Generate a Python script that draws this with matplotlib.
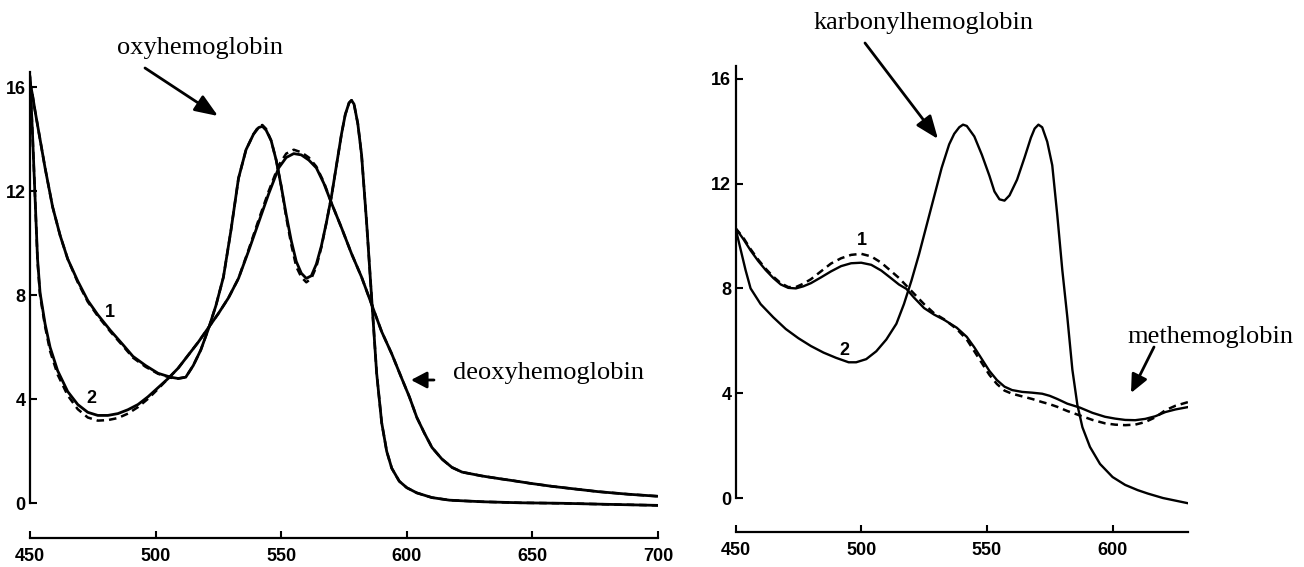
import matplotlib
matplotlib.use("Agg")
import matplotlib.pyplot as plt
from matplotlib.font_manager import FontProperties

W, H = 1304, 567

# ---------------- data ----------------
# Left panel: oxyhemoglobin (curve 1) and deoxyhemoglobin (curve 2)
oxy_x = [450, 451, 452, 454, 456, 459, 462, 465, 469, 473, 477, 482, 487, 491, 496, 501,
         506, 509, 512, 515, 518, 521, 524, 527, 530, 533, 536, 539, 541, 542.5, 544, 546, 548,
         550, 552, 554, 556, 558, 560, 562, 564, 566, 568, 570, 572, 574, 575.5, 577, 578, 579, 580.5,
         582, 584, 586, 588, 590, 592, 594, 597, 600, 604, 610, 617, 630, 645, 662, 680, 700]
oxy_y = [16.2, 15.7, 15.1, 14.0, 12.9, 11.4, 10.3, 9.4, 8.55, 7.8, 7.25, 6.65, 6.1, 5.65, 5.3, 5.0,
         4.85, 4.8, 4.85, 5.3, 5.9, 6.7, 7.6, 8.7, 10.5, 12.5, 13.6, 14.2, 14.45, 14.5, 14.35, 13.95, 13.2,
         12.2, 11.1, 10.1, 9.3, 8.85, 8.65, 8.75, 9.2, 9.9, 10.8, 11.8, 13.0, 14.2, 14.95, 15.4, 15.5, 15.35, 14.6,
         13.4, 10.8, 7.9, 5.0, 3.1, 2.0, 1.35, 0.85, 0.6, 0.4, 0.22, 0.12, 0.06, 0.02, 0.0, -0.04, -0.08]
oxy_dash_y = [16.2, 15.7, 15.1, 14.0, 12.9, 11.4, 10.3, 9.4, 8.5, 7.75, 7.2, 6.6, 6.05, 5.6, 5.25, 4.98,
              4.83, 4.8, 4.85, 5.3, 5.9, 6.7, 7.6, 8.7, 10.5, 12.5, 13.6, 14.2, 14.5, 14.55, 14.4, 13.95, 13.2,
              12.2, 11.0, 9.95, 9.1, 8.7, 8.5, 8.65, 9.1, 9.85, 10.8, 11.8, 13.0, 14.2, 14.95, 15.4, 15.5, 15.35, 14.6,
              13.4, 10.8, 7.9, 5.0, 3.1, 2.0, 1.35, 0.85, 0.6, 0.4, 0.22, 0.12, 0.06, 0.02, 0.0, -0.04, -0.08]

deoxy_x = [450, 451, 452, 453, 454, 456, 458, 461, 465, 469, 473, 477, 481, 485, 489, 493,
           497, 501, 505, 509, 513, 517, 521, 525, 529, 533, 537, 541, 545, 549, 552, 555,
           558, 561, 564, 567, 570, 574, 578, 582, 586, 590, 594, 598, 601, 604, 607, 610,
           614, 618, 622, 630, 636, 643, 649, 658, 667, 676, 688, 700]
deoxy_y = [16.4, 14.2, 11.8, 9.4, 8.1, 6.9, 6.0, 5.1, 4.3, 3.8, 3.5, 3.38, 3.38, 3.45, 3.6, 3.8,
           4.1, 4.45, 4.8, 5.2, 5.7, 6.2, 6.75, 7.3, 7.9, 8.65, 9.7, 10.8, 11.9, 12.9, 13.3, 13.45,
           13.4, 13.2, 12.9, 12.3, 11.55, 10.6, 9.6, 8.7, 7.65, 6.6, 5.75, 4.8, 4.1, 3.3, 2.7, 2.15,
           1.7, 1.38, 1.2, 1.05, 0.96, 0.86, 0.77, 0.65, 0.55, 0.45, 0.35, 0.27]
deoxy_dash_y = [16.4, 14.2, 11.8, 9.3, 8.0, 6.8, 5.85, 4.95, 4.15, 3.62, 3.3, 3.18, 3.2, 3.28, 3.45, 3.7,
                4.02, 4.4, 4.8, 5.2, 5.7, 6.2, 6.75, 7.3, 7.9, 8.65, 9.75, 10.9, 12.0, 13.0, 13.45, 13.6,
                13.5, 13.3, 12.95, 12.35, 11.55, 10.6, 9.6, 8.7, 7.65, 6.6, 5.75, 4.8, 4.1, 3.3, 2.7, 2.15,
                1.7, 1.38, 1.2, 1.05, 0.96, 0.86, 0.77, 0.65, 0.55, 0.45, 0.35, 0.27]

# Right panel: karbonylhemoglobin (curve 2) and methemoglobin (curve 1)
co_x = [450, 452, 454, 456, 460, 465, 470, 475, 480, 485, 490, 495, 498, 502, 506, 510,
        514, 517, 520, 523, 526, 529, 532, 535, 537, 539, 540.5, 542, 545, 548, 551, 553, 555,
        557, 559, 562, 565, 567.5, 569, 570.5, 572, 574, 576, 578, 580, 582, 584, 586, 588, 591,
        595, 600, 605, 610, 614, 620, 625, 630]
co_y = [10.3, 9.5, 8.7, 8.0, 7.4, 6.9, 6.45, 6.1, 5.8, 5.55, 5.35, 5.18, 5.18, 5.3, 5.6, 6.05,
        6.65, 7.4, 8.3, 9.3, 10.4, 11.5, 12.6, 13.5, 13.9, 14.15, 14.25, 14.2, 13.8, 13.1, 12.3, 11.7, 11.4,
        11.35, 11.55, 12.15, 13.0, 13.75, 14.1, 14.25, 14.15, 13.6, 12.7, 10.8, 8.7, 6.9, 4.9, 3.55, 2.7, 1.95,
        1.3, 0.8, 0.5, 0.3, 0.17, 0.0, -0.1, -0.2]

met_x = [450, 453, 456, 459, 462, 465, 468, 471, 474, 477, 480, 484, 488, 492, 496, 500,
         504, 508, 512, 515, 518, 521, 525, 529, 533, 538, 542, 545, 548, 551, 554, 557,
         560, 564, 568, 572, 575, 578, 582, 587, 592, 597, 601, 605, 609, 613, 617, 621,
         625, 630]
met_y = [10.3, 9.9, 9.45, 9.05, 8.7, 8.4, 8.15, 8.02, 8.0, 8.08, 8.2, 8.42, 8.65, 8.85, 8.96, 8.98,
         8.9, 8.68, 8.38, 8.15, 7.98, 7.65, 7.25, 7.0, 6.8, 6.5, 6.15, 5.75, 5.3, 4.85, 4.5, 4.25,
         4.12, 4.05, 4.02, 3.98, 3.9, 3.78, 3.6, 3.45, 3.25, 3.1, 3.03, 2.98, 2.97, 3.02, 3.12, 3.28,
         3.38, 3.47]
met_dash_y = [10.3, 9.95, 9.5, 9.1, 8.75, 8.45, 8.2, 8.05, 8.05, 8.18, 8.35, 8.65, 8.95, 9.15, 9.28, 9.32,
              9.22, 8.98, 8.65, 8.4, 8.1, 7.8, 7.4, 7.05, 6.82, 6.45, 6.05, 5.6, 5.15, 4.7, 4.35, 4.1,
              3.98, 3.88, 3.78, 3.66, 3.58, 3.48, 3.32, 3.15, 2.98, 2.85, 2.8, 2.78, 2.8, 2.9, 3.08, 3.35,
              3.52, 3.66]

y_ticks = [0, 4, 8, 12, 16]
left_x_ticks = [450, 500, 550, 600, 650, 700]
right_x_ticks = [450, 500, 550, 600]

# ---------------- figure ----------------
fig = plt.figure(figsize=(W / 100, H / 100), dpi=100)
tick_fp = FontProperties(family=['Liberation Sans Narrow', 'Liberation Sans', 'DejaVu Sans'],
                         weight='bold', size=13)
serif = ['Liberation Serif', 'DejaVu Serif']


def rect(x0, x1, ytop, ybot):
    return [x0 / W, 1 - ybot / H, (x1 - x0) / W, (ybot - ytop) / H]


def ff(px, py):
    return (px / W, 1 - py / H)


def style_axes(ax, xlim, xticks, ytop_val, outward_pt):
    ax.set_xlim(*xlim)
    ax.set_ylim(-0.5, 17)
    for s in ['top', 'right']:
        ax.spines[s].set_visible(False)
    ax.spines['left'].set_bounds(0, ytop_val)
    ax.spines['bottom'].set_bounds(xlim[0], xlim[1])
    ax.spines['bottom'].set_position(('outward', outward_pt))
    for s in ['left', 'bottom']:
        ax.spines[s].set_linewidth(1.6)
    ax.set_yticks(y_ticks)
    ax.set_xticks(xticks)
    ax.tick_params(axis='y', direction='in', length=5, width=1.5, pad=3)
    ax.tick_params(axis='x', direction='in', length=5, width=1.5, pad=7)
    for lab in ax.get_xticklabels() + ax.get_yticklabels():
        lab.set_fontproperties(tick_fp)
    ax.patch.set_alpha(0)


axL = fig.add_axes(rect(30, 658, 503.3 - 17 * 26.0, 503.3 + 0.5 * 26.0))
style_axes(axL, (450, 700), left_x_ticks, 16.6, 15.6)
axL.plot(oxy_x, oxy_dash_y, color='black', lw=1.8, ls=(0, (3, 2)))
axL.plot(deoxy_x, deoxy_dash_y, color='black', lw=1.8, ls=(0, (3, 2)))
axL.plot(oxy_x, oxy_y, color='black', lw=2.0)
axL.plot(deoxy_x, deoxy_y, color='black', lw=2.0)
axL.text(481.8, 7.0, '1', fontproperties=tick_fp, ha='center', va='bottom')
axL.text(474.5, 3.7, '2', fontproperties=tick_fp, ha='center', va='bottom')

axR = fig.add_axes(rect(735.5, 1188, 498 - 17 * 26.2, 498 + 0.5 * 26.2))
style_axes(axR, (450, 630), right_x_ticks, 16.5, 15.0)
axR.plot(met_x, met_dash_y, color='black', lw=1.8, ls=(0, (3, 2)))
axR.plot(met_x, met_y, color='black', lw=1.7)
axR.plot(co_x, co_y, color='black', lw=1.7)
axR.text(500.2, 9.5, '1', fontproperties=tick_fp, ha='center', va='bottom')
axR.text(493.2, 5.3, '2', fontproperties=tick_fp, ha='center', va='bottom')

# ---------------- annotations ----------------
fig.text(*ff(200, 48), 'oxyhemoglobin', family=serif, fontsize=19, ha='center', va='center')
fig.text(*ff(549, 373), 'deoxyhemoglobin', family=serif, fontsize=19, ha='center', va='center')
fig.text(*ff(924, 23), 'karbonylhemoglobin', family=serif, fontsize=19, ha='center', va='center')
fig.text(*ff(1210, 337), 'methemoglobin', family=serif, fontsize=19, ha='center', va='center')


def arrow(tail, tip, hl=1.4, hw=0.55):
    fig.add_artist(matplotlib.patches.FancyArrowPatch(
        ff(*tail), ff(*tip), transform=fig.transFigure,
        arrowstyle=f'-|>,head_length={hl},head_width={hw}', mutation_scale=10,
        lw=2, color='black', shrinkA=0, shrinkB=0))


arrow((145, 68), (218, 116))
arrow((434, 380), (411, 380), hl=0.95, hw=0.5)
arrow((865, 43), (938, 139))
arrow((1154, 347), (1131, 393), hl=1.1, hw=0.5)

fig.savefig('out.png', dpi=100)
